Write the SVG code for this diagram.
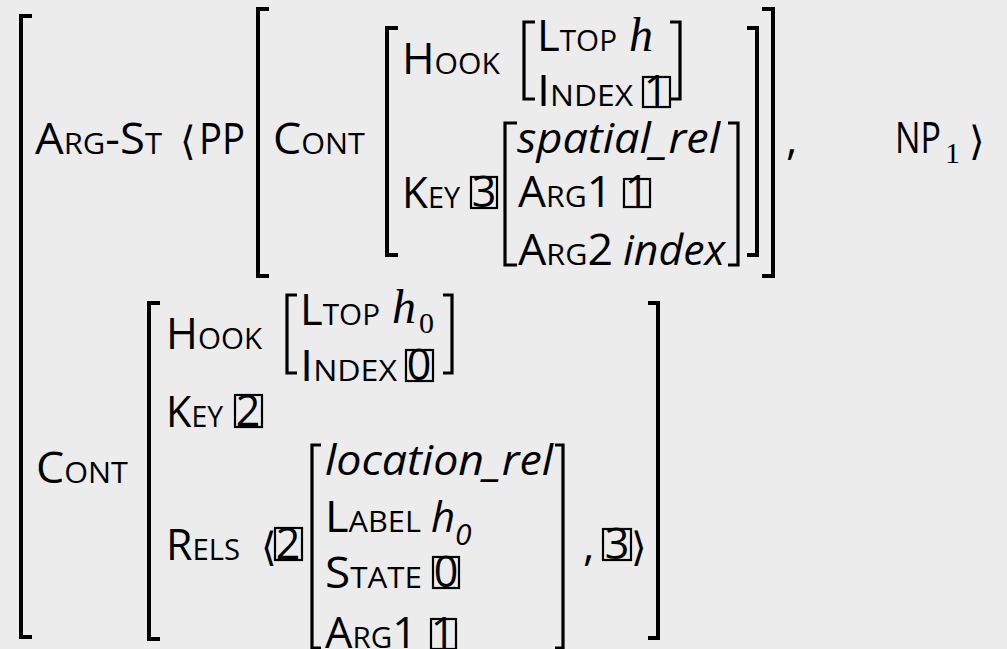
<svg xmlns="http://www.w3.org/2000/svg" width="1007" height="649" viewBox="0 0 1007 649">
  <style>
    text { font-family: "Open Sans", "Noto Sans", sans-serif; font-size: 44px; fill: #000; }
    .sc { font-size: 30px; }
    .it { font-style: italic; font-size: 42px; }
    .mh { font-family: "Liberation Serif", "DejaVu Serif", serif; font-style: italic; font-size: 48px; }
    .sub { font-family: "Liberation Serif", "DejaVu Serif", serif; font-size: 30px; }
    .ang { font-family: "DejaVu Sans", "Noto Sans", sans-serif; font-size: 40px; }
    .dig { font-size: 43px; text-anchor: middle; }
    .br { fill: none; stroke: #000; stroke-width: 4; }
    .brs { fill: none; stroke: #000; stroke-width: 3.2; }
    .tag { fill: none; stroke: #000; stroke-width: 2.2; }
  </style>
  <rect width="1007" height="649" fill="#ececec"/>

  <!-- square brackets of the feature structures -->
  <g id="brackets">
    <path class="br" d="M32,16 H21 V637 H32"/>
    <path class="br" d="M269,9 H258 V276 H269"/>
    <path class="br" d="M762,9 H773 V276 H762"/>
    <path class="br" d="M398,28 H387 V255 H398"/>
    <path class="br" d="M747,28 H757 V255 H747"/>
    <path class="brs" d="M535,22 H524 V99 H535"/>
    <path class="brs" d="M670,22 H680 V99 H670"/>
    <path class="brs" d="M517,123 H505 V265 H517"/>
    <path class="brs" d="M728,123 H738 V265 H728"/>
    <path class="br" d="M160,303 H149 V639 H160"/>
    <path class="br" d="M648,303 H658 V638 H648"/>
    <path class="brs" d="M297,295 H287 V373 H297"/>
    <path class="brs" d="M443,295 H452 V373 H443"/>
    <path class="brs" d="M321,445 H312 V648 H321"/>
    <path class="brs" d="M555,445 H563 V648 H555"/>
  </g>

  <!-- outer structure: ARG-ST -->
  <g id="argst">
    <text x="35" y="154" textLength="127" lengthAdjust="spacingAndGlyphs">A<tspan class="sc">RG</tspan>-S<tspan class="sc">T</tspan></text>
    <text class="ang" x="180" y="155">⟨</text>
    <text x="199" y="154" textLength="46" lengthAdjust="spacingAndGlyphs">PP</text>
    <text x="786" y="154">,</text>
    <text x="895" y="153" textLength="46" lengthAdjust="spacingAndGlyphs">NP</text>
    <text class="sub" x="945" y="163">1</text>
    <text class="ang" x="969" y="155">⟩</text>
  </g>

  <!-- PP content -->
  <g id="pp-cont">
    <text x="273" y="154" textLength="92" lengthAdjust="spacingAndGlyphs">C<tspan class="sc">ONT</tspan></text>
    <text x="402" y="74" textLength="98" lengthAdjust="spacingAndGlyphs">H<tspan class="sc">OOK</tspan></text>
    <text x="537" y="51" textLength="80" lengthAdjust="spacingAndGlyphs">L<tspan class="sc">TOP</tspan></text>
    <text class="mh" x="629" y="51">h</text>
    <text x="537" y="106" textLength="96" lengthAdjust="spacingAndGlyphs">I<tspan class="sc">NDEX</tspan></text>
    <rect class="tag" x="643" y="77" width="27" height="30"/>
    <text class="dig" x="656" y="106">1</text>
    <text x="402" y="208" textLength="58" lengthAdjust="spacingAndGlyphs">K<tspan class="sc">EY</tspan></text>
    <rect class="tag" x="471" y="177" width="26" height="31"/>
    <text class="dig" x="484" y="207">3</text>
  </g>

  <!-- spatial_rel -->
  <g id="spatial-rel">
    <text class="it" x="517" y="153" textLength="203" lengthAdjust="spacingAndGlyphs">spatial_rel</text>
    <text x="518" y="207" textLength="94" lengthAdjust="spacingAndGlyphs">A<tspan class="sc">RG</tspan>1</text>
    <rect class="tag" x="624" y="179" width="26" height="28"/>
    <text class="dig" x="637" y="206">1</text>
    <text x="518" y="265" textLength="95" lengthAdjust="spacingAndGlyphs">A<tspan class="sc">RG</tspan>2</text>
    <text class="it" x="623" y="265" textLength="102" lengthAdjust="spacingAndGlyphs">index</text>
  </g>

  <!-- outer CONT -->
  <g id="cont">
    <text x="36" y="483" textLength="92" lengthAdjust="spacingAndGlyphs">C<tspan class="sc">ONT</tspan></text>
    <text x="166" y="349" textLength="96" lengthAdjust="spacingAndGlyphs">H<tspan class="sc">OOK</tspan></text>
    <text x="300" y="325" textLength="80" lengthAdjust="spacingAndGlyphs">L<tspan class="sc">TOP</tspan></text>
    <text class="mh" x="392" y="323">h</text>
    <text class="sub" x="419" y="333">0</text>
    <text x="300" y="381" textLength="97" lengthAdjust="spacingAndGlyphs">I<tspan class="sc">NDEX</tspan></text>
    <rect class="tag" x="406" y="350" width="27" height="31"/>
    <text class="dig" x="419" y="380">0</text>
    <text x="166" y="427" textLength="57" lengthAdjust="spacingAndGlyphs">K<tspan class="sc">EY</tspan></text>
    <rect class="tag" x="235" y="395" width="27" height="32"/>
    <text class="dig" x="248" y="426">2</text>
    <text x="166" y="560" textLength="74" lengthAdjust="spacingAndGlyphs">R<tspan class="sc">ELS</tspan></text>
    <text class="ang" x="261" y="561">⟨</text>
    <rect class="tag" x="275" y="528" width="27" height="32"/>
    <text class="dig" x="288" y="559">2</text>
    <text x="583" y="560">,</text>
    <rect class="tag" x="603" y="529" width="28" height="31"/>
    <text class="dig" x="617" y="559">3</text>
    <text class="ang" x="631" y="561">⟩</text>
  </g>

  <!-- location_rel -->
  <g id="location-rel">
    <text class="it" x="325" y="475" textLength="228" lengthAdjust="spacingAndGlyphs">location_rel</text>
    <text x="325" y="532" textLength="96" lengthAdjust="spacingAndGlyphs">L<tspan class="sc">ABEL</tspan></text>
    <text class="it" x="431" y="532">h</text>
    <text class="it" x="455" y="545" style="font-size:30px">0</text>
    <text x="325" y="588" textLength="97" lengthAdjust="spacingAndGlyphs">S<tspan class="sc">TATE</tspan></text>
    <rect class="tag" x="433" y="557" width="26" height="31"/>
    <text class="dig" x="446" y="587">0</text>
    <text x="325" y="648" textLength="92" lengthAdjust="spacingAndGlyphs">A<tspan class="sc">RG</tspan>1</text>
    <rect class="tag" x="431" y="619" width="25" height="30"/>
    <text class="dig" x="443" y="648">1</text>
  </g>
</svg>
